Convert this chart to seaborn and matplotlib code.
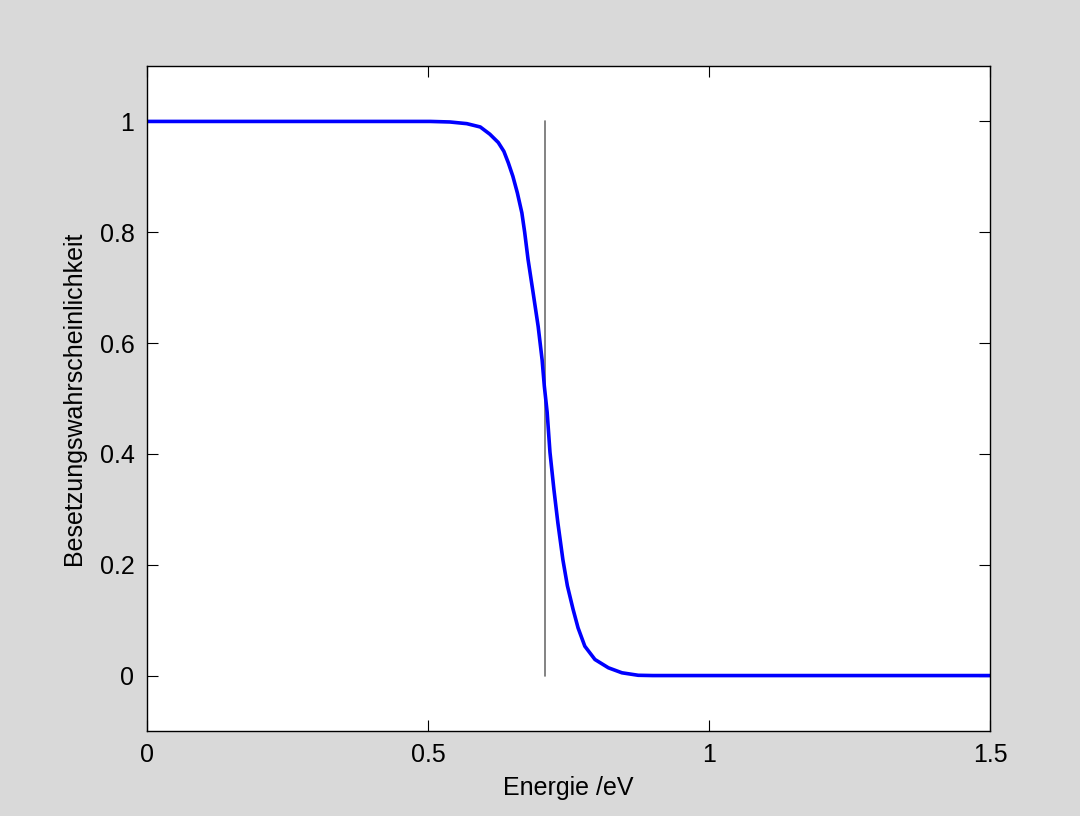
import numpy as np
import pandas as pd
import matplotlib
matplotlib.use('Agg')
import matplotlib.pyplot as plt
import seaborn as sns

# values
energy = [0.0, 0.504, 0.539, 0.569, 0.593, 0.610, 0.625, 0.635, 0.643, 0.651,
          0.659, 0.667, 0.672, 0.678, 0.687, 0.696, 0.703, 0.707, 0.712, 0.717,
          0.724, 0.731, 0.740, 0.748, 0.758, 0.767, 0.779, 0.797, 0.821,
          0.845, 0.874, 0.90, 1.2, 1.5]
occupation = [1.0, 1.0, 0.999, 0.996, 0.990, 0.977, 0.962, 0.946, 0.925, 0.901,
              0.871, 0.835, 0.800, 0.751, 0.691, 0.630, 0.570, 0.522, 0.475, 0.403,
              0.336, 0.276, 0.209, 0.162, 0.120, 0.086, 0.053, 0.029, 0.014,
              0.005, 0.0005, 0.0, 0.0, 0.0]
fermi_level = 0.708
fermi_span = [0.0, 1.0]

x_ticks = [0, 0.5, 1, 1.5]
y_ticks = [0, 0.2, 0.4, 0.6, 0.8, 1]

sns.set_theme(style='ticks')
plt.rcParams['font.family'] = ['Liberation Sans', 'DejaVu Sans']

curve = pd.DataFrame({'E': energy, 'f': occupation})
marker = pd.DataFrame({'E': [fermi_level, fermi_level], 'f': fermi_span})

fig = plt.figure(figsize=(10.8, 8.16), dpi=100, facecolor='#d9d9d9')
ax = fig.add_axes([0.1361, 0.1042, 0.7806, 0.8149])
ax.set_facecolor('white')

# Fermi level marker, then the occupation curve on top
sns.lineplot(data=marker, x='E', y='f', sort=False, estimator=None,
             color='#6e6e6e', lw=1.2, ax=ax)
sns.lineplot(data=curve, x='E', y='f', sort=False, estimator=None,
             color='#0000ff', lw=2.6, ax=ax)

ax.set_xlim(0, 1.5)
ax.set_ylim(-0.1, 1.1)
ax.set_xticks(x_ticks)
ax.set_xticklabels(['0', '0.5', '1', '1.5'])
ax.set_yticks(y_ticks)
ax.set_yticklabels(['0', '0.2', '0.4', '0.6', '0.8', '1'])
ax.tick_params(direction='in', length=8, width=0.8, color='black',
               top=True, right=True, labelsize=18, pad=9, labelcolor='black')
for s in ax.spines.values():
    s.set_visible(True)
    s.set_color('black')
    s.set_linewidth(1.0)

ax.set_xlabel('Energie /eV', fontsize=18, color='black', labelpad=6)
ax.set_ylabel('Besetzungswahrscheinlichkeit', fontsize=18, color='black', labelpad=10)

fig.savefig('out.png', dpi=100, facecolor=fig.get_facecolor())
